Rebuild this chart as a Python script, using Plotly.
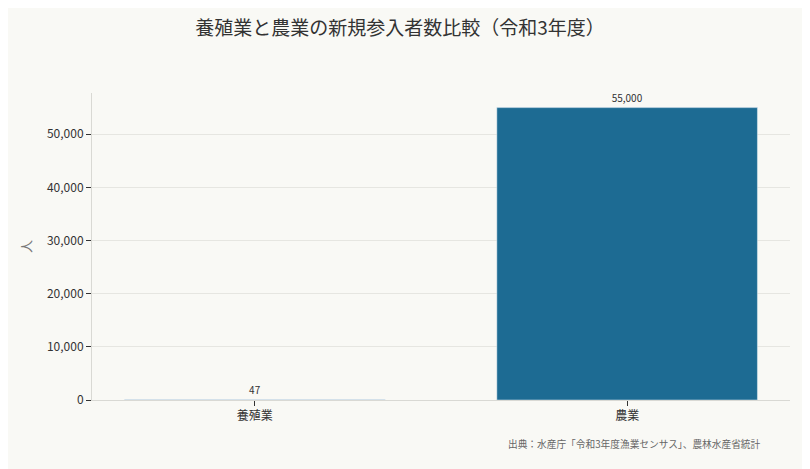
import plotly.graph_objects as go

categories = ["養殖業", "農業"]
entrants = [47, 55000]
labels = ["47", "55,000"]

bar_color = "#1d6b93"
bg = "#f9f9f5"
font_jp = "Noto Sans CJK JP"

fig = go.Figure()
fig.add_trace(go.Bar(
    x=categories,
    y=entrants,
    width=0.7,
    marker_color=bar_color,
    text=labels,
    textposition="outside",
    textfont=dict(size=10, color="#333333"),
    cliponaxis=False,
    showlegend=False,
))

fig.update_layout(
    width=810,
    height=469,
    paper_bgcolor=bg,
    plot_bgcolor=bg,
    font=dict(family=font_jp, color="#333333", size=12),
    title=dict(text="養殖業と農業の新規参入者数比較（令和3年度）",
               x=0.484, xanchor="center", y=0.957, yanchor="middle",
               font=dict(size=19, color="#333333")),
    margin=dict(l=84, r=28, t=85, b=77),
    bargap=0.3,
)

fig.update_xaxes(
    range=[-0.4375, 1.4375],
    showline=True, linecolor="#d9d9d4", linewidth=1,
    ticks="outside", ticklen=5, tickcolor="#333333",
    tickfont=dict(size=12, color="#333333"),
    showgrid=False,
)
fig.update_yaxes(
    range=[0, 57750],
    tickvals=[0, 10000, 20000, 30000, 40000, 50000],
    tickformat=",",
    showline=True, linecolor="#d9d9d4", linewidth=1,
    ticks="outside", ticklen=5, tickcolor="#333333",
    gridcolor="#e6e6e1", zeroline=False,
    tickfont=dict(size=12, color="#333333"),
    title=dict(text="人", font=dict(size=13, color="#777777"), standoff=12),
)

fig.add_annotation(
    text="出典：水産庁「令和3年度漁業センサス」、農林水産省統計",
    xref="paper", yref="paper", x=0.9613, y=-0.1433,
    xanchor="right", yanchor="middle", showarrow=False,
    font=dict(size=9.7, color="#666666"),
)

fig.write_html("out.html")
